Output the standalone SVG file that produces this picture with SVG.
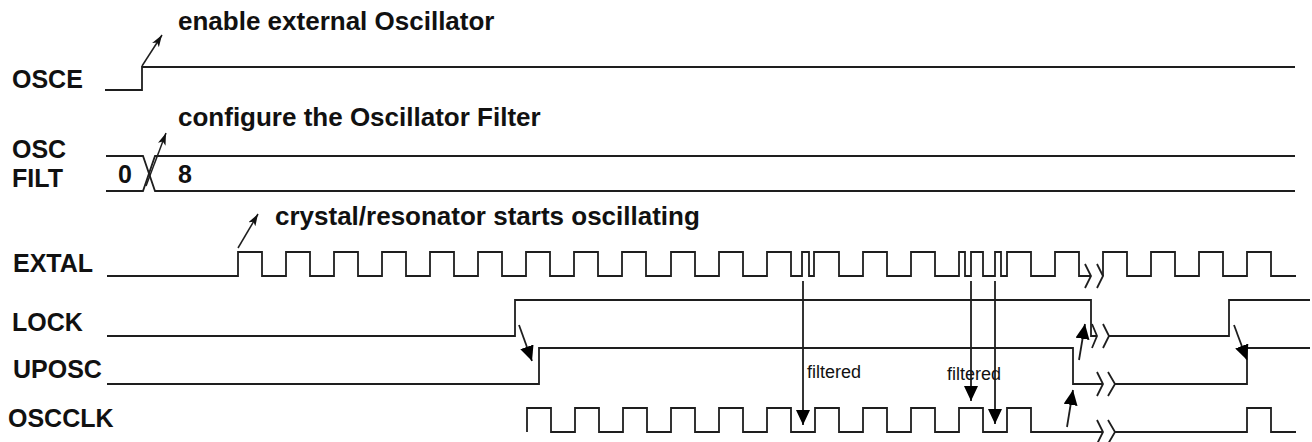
<svg xmlns="http://www.w3.org/2000/svg" width="1312" height="442" viewBox="0 0 1312 442">
<style>
.w{fill:none;stroke:#1e1e1e;stroke-width:1.8;stroke-linejoin:miter}
.lbl{font-family:"Liberation Sans",Arial,sans-serif;font-weight:bold;font-size:25px;fill:#111}
.ann{font-family:"Liberation Sans",Arial,sans-serif;font-weight:bold;font-size:26px;fill:#111}
.flt{font-family:"Liberation Sans",Arial,sans-serif;font-size:18px;fill:#111}
.as{fill:none;stroke:#1e1e1e;stroke-width:1.5;marker-end:url(#small)}
.ab{fill:none;stroke:#1e1e1e;stroke-width:1.8;marker-end:url(#big)}
</style>
<defs>
<marker id="small" markerUnits="userSpaceOnUse" markerWidth="14" markerHeight="10" refX="12" refY="4" orient="auto">
<path d="M0,0 L12,4 L0,8 L3,4 z" fill="#111"/>
</marker>
<marker id="big" markerUnits="userSpaceOnUse" markerWidth="16" markerHeight="16" refX="15" refY="7" orient="auto">
<path d="M0,0 L15,7 L0,14 z" fill="#000"/>
</marker>
</defs>
<rect width="1312" height="442" fill="#fff"/>

<g id="osce">
<text class="lbl" x="12" y="88">OSCE</text>
<path class="w" d="M105,90 H142 V67 H1295"/>
<text class="ann" x="178" y="30">enable external Oscillator</text>
</g>

<g id="oscfilt">
<text class="lbl" x="12" y="158">OSC</text>
<text class="lbl" x="12" y="187">FILT</text>
<path class="w" d="M106,156 H143 L155,191 H1295"/>
<path class="w" d="M106,191 H143 L155,156 H1295"/>
<text class="lbl" x="118" y="183">0</text>
<text class="lbl" x="178" y="183">8</text>
<text class="ann" x="178" y="126">configure the Oscillator Filter</text>
</g>

<g id="extal">
<text class="lbl" x="13" y="272">EXTAL</text>
<path class="w" d="M107,276 H238 V252 H262 V276 H286 V252 H310 V276 H334 V252 H358 V276 H382 V252 H406 V276 H430 V252 H454 V276 H478 V252 H502 V276 H526 V252 H550 V276 H574 V252 H598 V276 H622 V252 H646 V276 H671 V252 H695 V276 H719 V252 H743 V276 H767 V252 H791 V276 H802 V252 H809 V276 H814 V252 H839 V276 H863 V252 H887 V276 H911 V252 H935 V276 H959 V252 H965 V276 H971 V252 H983 V276 H995 V252 H1001 V276 H1007 V252 H1031 V276 H1055 V252 H1079 V276 H1091"/>
<path class="w" d="M1085,264 L1091,276 L1085,288 M1097,264 L1103,276 L1097,288"/>
<path class="w" d="M1103,276 V252 H1127 V276 H1151 V252 H1175 V276 H1199 V252 H1223 V276 H1247 V252 H1271 V276 H1296"/>
<text class="ann" x="275" y="225">crystal/resonator starts oscillating</text>
</g>

<g id="lock">
<text class="lbl" x="12" y="331">LOCK</text>
<path class="w" d="M107,336 H515 V300 H1091 V336 H1097"/>
<path class="w" d="M1092,324 L1097,336 L1092,348 M1103,324 L1109,336 L1103,348"/>
<path class="w" d="M1109,336 H1229 V300 H1310"/>
</g>

<g id="uposc">
<text class="lbl" x="13" y="378">UPOSC</text>
<path class="w" d="M107,384 H539 V348 H1073 V384 H1103"/>
<path class="w" d="M1097,372 L1103,384 L1097,396 M1108,372 L1115,384 L1108,396"/>
<path class="w" d="M1115,384 H1247 V348 H1310"/>
</g>

<g id="oscclk">
<text class="lbl" x="8" y="427">OSCCLK</text>
<path class="w" d="M527,432 V408 H551 V432 H575 V408 H599 V432 H623 V408 H647 V432 H671 V408 H695 V432 H719 V408 H743 V432 H767 V408 H791 V432 H815 V408 H839 V432 H863 V408 H887 V432 H911 V408 H935 V432 H959 V408 H983 V432 H1007 V408 H1031 V432 H1103"/>
<path class="w" d="M1097,420 L1103,432 L1097,444 M1108,420 L1115,432 L1108,444"/>
<path class="w" d="M1115,432 H1247 V408 H1271 V432 H1296"/>
</g>

<g id="connectors">
<line class="as" x1="142" y1="66" x2="162" y2="35"/>
<line class="as" x1="146" y1="186" x2="166" y2="133"/>
<line class="as" x1="238" y1="248" x2="258" y2="214"/>
<line class="ab" x1="519" y1="325" x2="532" y2="361"/>
<line class="ab" x1="1234" y1="325" x2="1247" y2="360"/>
<line class="ab" x1="1079" y1="360" x2="1085" y2="324"/>
<line class="ab" x1="1067" y1="427" x2="1073" y2="390"/>
<line class="ab" x1="803" y1="281" x2="803" y2="425"/>
<line class="ab" x1="971" y1="281" x2="971" y2="401"/>
<line class="ab" x1="995" y1="281" x2="995" y2="424"/>
<text class="flt" x="807" y="378">filtered</text>
<text class="flt" x="947" y="380">filtered</text>
</g>
</svg>
